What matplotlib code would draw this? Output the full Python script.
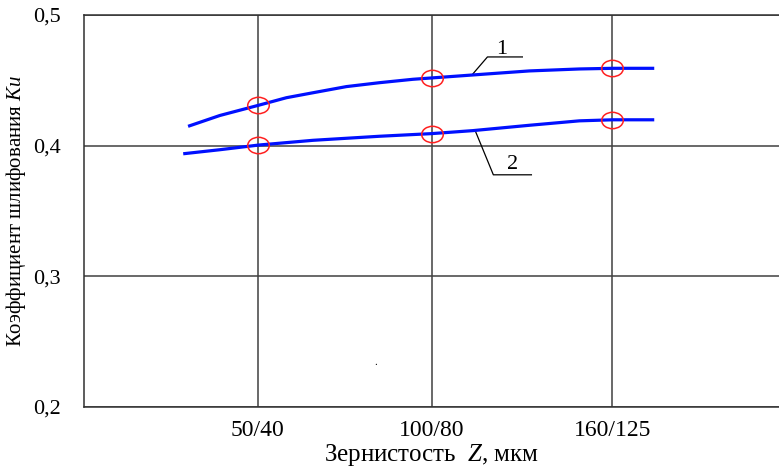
import numpy as np
import matplotlib
matplotlib.use('Agg')
import matplotlib.pyplot as plt
from matplotlib.path import Path
from matplotlib.transforms import Affine2D

plt.rcParams['font.family'] = ['Liberation Serif', 'DejaVu Serif']
plt.rcParams['mathtext.fontset'] = 'custom'
plt.rcParams['mathtext.rm'] = 'Liberation Serif'
plt.rcParams['mathtext.it'] = 'Liberation Serif:italic'

# data
grain_labels = ['50/40', '100/80', '160/125']
grain_pos = [1.0, 2.0, 3.04]

# curve 1 (upper)
x1 = [0.599, 0.782, 1.007, 1.165, 1.318, 1.51, 1.701, 1.893, 1.998,
      2.237, 2.563, 2.851, 3.042, 3.282]
y1 = [0.4148, 0.4231, 0.431, 0.4367, 0.4405, 0.4452, 0.4482, 0.4508, 0.4518,
      0.4541, 0.4572, 0.4587, 0.4592, 0.4592]
m1 = [0.4308, 0.4518, 0.4592]

# curve 2 (lower)
x2 = [0.571, 0.782, 1.007, 1.318, 1.701, 1.998, 2.237, 2.563, 2.851, 3.042, 3.282]
y2 = [0.3938, 0.3969, 0.4005, 0.4041, 0.4072, 0.4092, 0.4115, 0.4156, 0.419,
      0.4198, 0.4198]
m2 = [0.4003, 0.4092, 0.4198]

yticks = [0.2, 0.3, 0.4, 0.5]
ytick_labels = ['0,2', '0,3', '0,4', '0,5']

fig = plt.figure(figsize=(7.79, 4.67), dpi=100)
ax = fig.add_axes([84/779, 1-407/467, 695/779, 392/467])

# ellipse marker like in the original
ell = Path.unit_circle().transformed(Affine2D().scale(1.0, 0.76))

ax.plot(x1, y1, color='#0010ff', lw=2.3, solid_capstyle='butt', zorder=3)
ax.plot(x2, y2, color='#0010ff', lw=2.3, solid_capstyle='butt', zorder=3)
ax.plot(grain_pos, m1, ls='none', marker=ell, ms=15.5, mfc='none', mec='#ff2020', mew=1.1, zorder=4)
ax.plot(grain_pos, m2, ls='none', marker=ell, ms=15.5, mfc='none', mec='#ff2020', mew=1.1, zorder=4)

# leader lines with curve numbers
ax.plot([2.236, 2.322, 2.523], [0.4546, 0.4679, 0.4679], color='black', lw=0.9)
ax.text(2.402, 0.4665, '1', fontsize=16, ha='center', va='bottom')
ax.plot([2.253, 2.356, 2.575], [0.411, 0.3777, 0.3777], color='black', lw=0.9)
ax.text(2.466, 0.3785, '2', fontsize=16, ha='center', va='bottom')
ax.text(1.678, 0.234, '.', fontsize=8, ha='center', va='center')

ax.set_xlim(0, 4)
ax.set_ylim(0.2, 0.5)
ax.set_xticks(grain_pos)
ax.set_xticklabels(grain_labels, fontsize=17)
ax.set_yticks(yticks)
ax.set_yticklabels(ytick_labels, fontsize=16)
ax.tick_params(length=0)
ax.tick_params(axis='y', pad=17)
ax.tick_params(axis='x', pad=9)
ax.grid(True, color='#404040', lw=1.1)
ax.set_axisbelow(True)
for s in ['left', 'bottom', 'top']:
    ax.spines[s].set_color('#303030')
    ax.spines[s].set_linewidth(1.1)
ax.spines['right'].set_visible(False)

ax.set_xlabel('Зернистость  $Z$, мкм', fontsize=18, labelpad=1)
ax.set_ylabel('Коэффициент шлифования $Ки$', fontsize=15, labelpad=3)

fig.savefig('out.png', dpi=100)
